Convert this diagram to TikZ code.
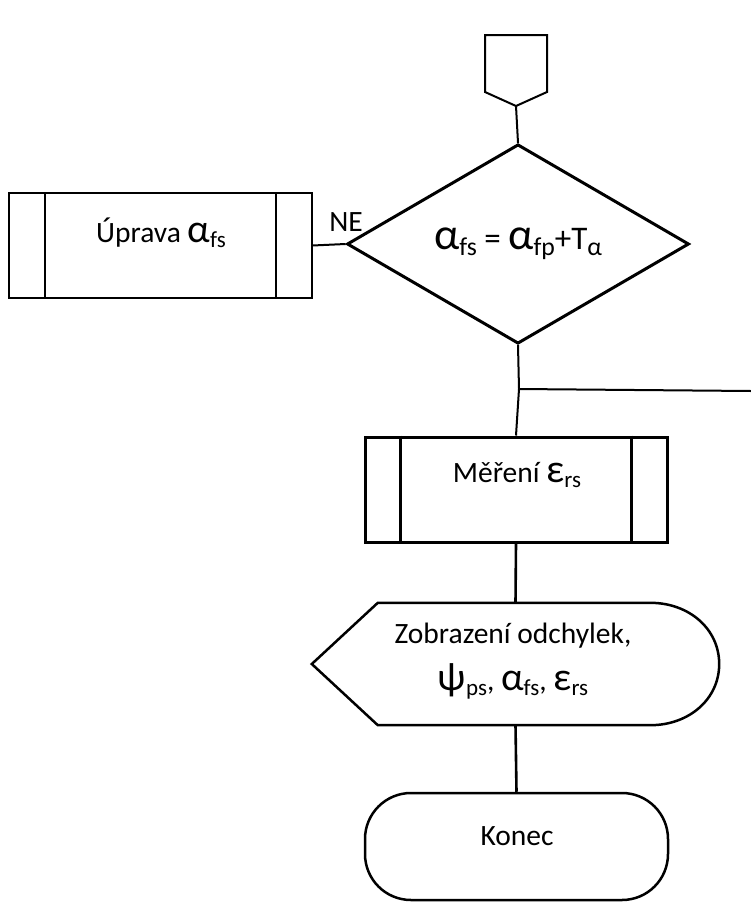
\documentclass[tikz,border=0pt]{standalone}
\usepackage{fontspec}
\setmainfont{Carlito}
\usetikzlibrary{calc,shapes.geometric,positioning}

% larger greek letters, small subscripts
\newcommand{\gr}[1]{\scalebox{1.35}{#1}}
\newcommand{\sbs}[1]{\raisebox{-0.17em}{\scalebox{0.78}{#1}}}

\begin{document}
\begin{tikzpicture}[
    x=1pt, y=-1pt,
    % Styling for flowchart elements
    every node/.style={font=\fontsize{29.5}{35}\selectfont},
    subproc/.style={rectangle, draw=black, line width=2pt, inner sep=0pt, minimum width=303pt, minimum height=105pt},
    decision/.style={diamond, draw=black, line width=3pt, inner sep=0pt, minimum width=342pt, minimum height=174pt, font=\fontsize{33}{40}\selectfont},
    terminal/.style={rectangle, rounded corners=46pt, draw=black, line width=2.5pt, inner sep=0pt, minimum width=303pt, minimum height=107pt},
    area/.style={inner sep=0pt, minimum width=407pt, minimum height=122pt},
    txt/.style={inner sep=0pt, align=center},
    link/.style={line width=2pt}
]
    \useasboundingbox (0,0) rectangle (751,902);

    % Off-page connector
    \draw[line width=2pt] (485,35) -- (547,35) -- (547,92) -- (516,106) coordinate (conn) -- (485,92) -- cycle;

    % Decision
    \node[decision] (test) at (518,244) {\gr{α}\sbs{fs} = \gr{α}\sbs{fp}+T\sbs{α}};

    % Subprocess on the NE branch
    \node[subproc] (uprava) at (160,245.5) {};
    \draw[line width=2pt] ($(uprava.north west)+(37,0)$) -- ($(uprava.south west)+(37,0)$);
    \draw[line width=2pt] ($(uprava.north east)+(-37,0)$) -- ($(uprava.south east)+(-37,0)$);
    \node[txt] (uprava-t) at (161,233) {Úprava \gr{α}\sbs{fs}};
    \node[txt] (ne) at (346,222) {NE};

    % Measurement subprocess
    \node[subproc, line width=3pt, minimum width=302pt] (mereni) at (516,489.5) {};
    \draw[line width=3pt] ($(mereni.north west)+(37,0)$) -- ($(mereni.south west)+(37,0)$);
    \draw[line width=3pt] ($(mereni.north east)+(-37,0)$) -- ($(mereni.south east)+(-37,0)$);
    \node[txt] (mereni-t) at (517,475) {Měření \gr{ε}\sbs{rs}};

    % Display
    \node[area] (show) at (515.5,664) {};
    \draw[line width=2.5pt] (show.west) -- ($(show.north west)+(66,0)$) -- ($(show.north east)+(-69,0)$)
        .. controls ($(show.north east)+(-30,0)$) and ($(show.east)+(0,-35)$) .. (show.east)
        .. controls ($(show.east)+(0,35)$) and ($(show.south east)+(-30,0)$) .. ($(show.south east)+(-69,0)$)
        -- ($(show.south west)+(66,0)$) -- cycle;
    \node[txt] (show-t) at (513,661) {Zobrazení odchylek,\\[12pt] \gr{ψ}\sbs{ps}, \gr{α}\sbs{fs}, \gr{ε}\sbs{rs}};

    % End
    \node[terminal] (konec) at (516.5,846.5) {};
    \node[txt] (konec-t) at (517,836) {Konec};

    % Connectors
    \coordinate (split) at (519,389);
    \coordinate (exit) at (751,391);
    \draw[link] (conn) -- (test.north);
    \draw[link] (uprava.east) -- (test.west);
    \draw[link] (test.south) -- (split);
    \draw[link] (split) -- (exit);
    \draw[link] (split) -- (mereni.north);
    \draw[link, line width=2.6pt] (mereni.south) -- (show.north);
    \draw[link, line width=2.6pt] (show.south) -- (konec.north);

\end{tikzpicture}
\end{document}
